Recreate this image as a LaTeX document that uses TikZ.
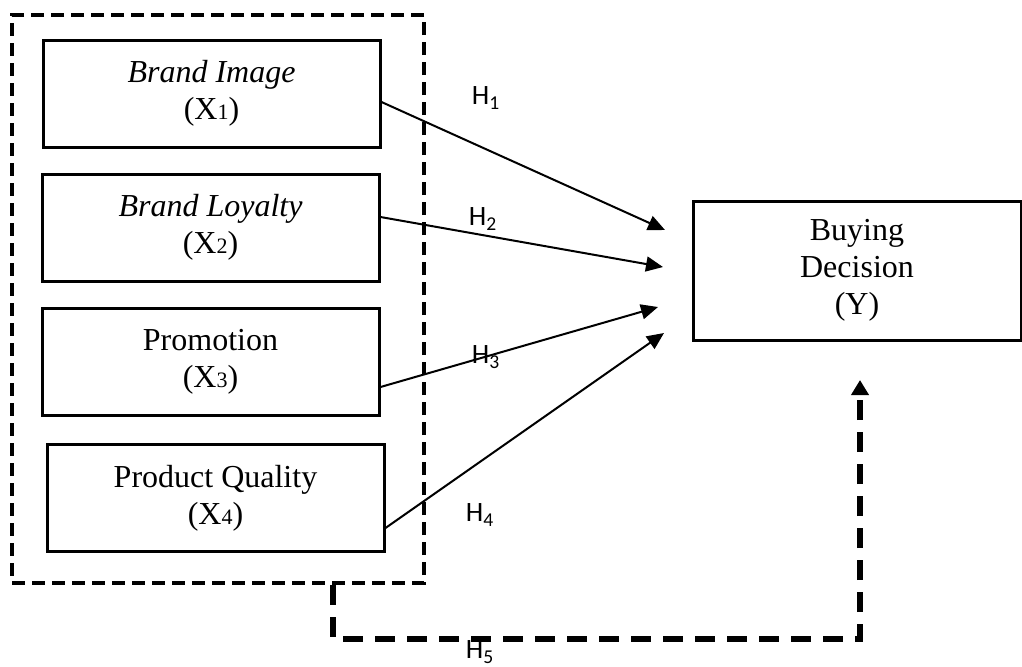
\documentclass[tikz,border=0pt]{standalone}
\usepackage{fontspec}
\setmainfont{Liberation Serif}
\newfontfamily\hfont{Carlito}
\usetikzlibrary{arrows.meta}
\newcommand{\idx}[1]{{\fontsize{11}{11}\selectfont #1}}

\begin{document}
\begin{tikzpicture}[x=0.5pt,y=-0.5pt,
			varbox/.style={draw,line width=1.5pt,minimum width=168.5pt,minimum height=53.5pt,align=center,inner sep=0pt,font=\fontsize{16}{18.5}\selectfont},
			hyp/.style={line width=1pt,-{Triangle[length=8.5pt,width=7.5pt]}},
			hlabel/.style={inner sep=0pt,font=\hfont\fontsize{14}{14}\selectfont},
			grpbox/.style={draw,line width=2pt,dash pattern=on 6.5pt off 3.5pt,minimum width=206pt,minimum height=284pt,inner sep=0pt},
			modpath/.style={line width=3pt,dash pattern=on 10pt off 6pt,-{Triangle[length=7.5pt,width=8.5pt]}}]
			\useasboundingbox (0,0) rectangle (1022,666);
			\node[grpbox] (grp) at (218,299) {};
			\node[varbox] (b1) at (211.5,93.5) {\textit{Brand Image}\\(X\idx{1})};
			\node[varbox] (b2) at (210.5,227.5) {\textit{Brand Loyalty}\\(X\idx{2})};
			\node[varbox] (b3) at (210.5,361.5) {Promotion\\(X\idx{3})};
			\node[varbox] (b4) at (215.5,498) {Product Quality\\(X\idx{4})};
			\node[varbox,minimum width=164pt,minimum height=69.5pt] (y) at (857,270.5) {Buying\\Decision\\(Y)};
			\coordinate (t1) at (665,230);
			\coordinate (t2) at (663,267);
			\coordinate (t3) at (658,307);
			\coordinate (t4) at (664,333);
			\coordinate (t5) at (860,380);
			\draw[hyp] ([yshift=-4.25pt]b1.east) -- (t1);
			\draw[hyp] ([yshift=5.25pt]b2.east) -- (t2);
			\draw[hyp] ([yshift=-12.75pt]b3.east) -- (t3);
			\draw[hyp] ([yshift=-15pt]b4.east) -- (t4);
			\draw[modpath] (grp.south -| 333,0) -- (333,639) -- (t5 |- 0,639) -- (t5);
			\node[hlabel] (h1) at (486,98) {H\textsubscript{1}};
			\node[hlabel] (h2) at (483,219) {H\textsubscript{2}};
			\node[hlabel] (h3) at (486,357) {H\textsubscript{3}};
			\node[hlabel] (h4) at (480,515) {H\textsubscript{4}};
			\node[hlabel] (h5) at (480,652) {H\textsubscript{5}};
\end{tikzpicture}
\end{document}
